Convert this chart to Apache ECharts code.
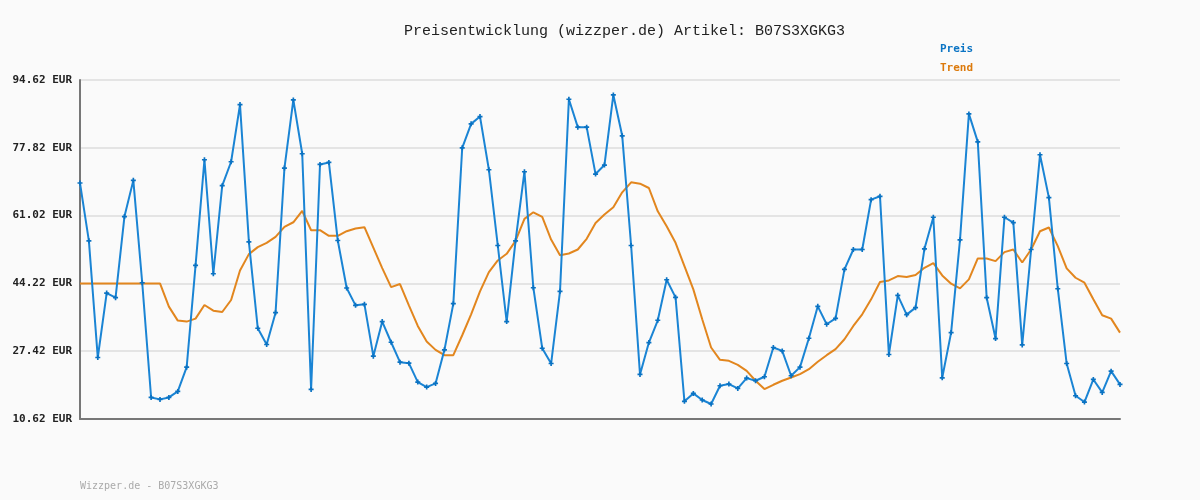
<!DOCTYPE html>
<html>
<head>
<meta charset="utf-8">
<script src="https://cdn.jsdelivr.net/npm/echarts@6/dist/echarts.min.js"></script>
<style>
  html, body { margin: 0; padding: 0; background: #fafafa; }
  #chart { width: 1200px; height: 500px; }
</style>
</head>
<body>
<div id="chart"></div>
<script>
const PRICE_COLOR = "#1a84d4";
const TREND_COLOR = "#e2861e";

const PRICE = [
  69.09, 54.76, 25.86, 41.83, 40.68, 60.78, 69.75, 44.39, 15.97, 15.48,
  15.97, 17.46, 23.47, 48.67, 74.86, 46.61, 68.43, 74.36, 88.53, 54.52,
  33.10, 29.07, 36.97, 72.80, 89.68, 76.34, 17.95, 73.70, 74.20, 54.84,
  43.07, 38.78, 39.03, 26.19, 34.75, 29.64, 24.70, 24.46, 19.76, 18.53,
  19.44, 27.75, 39.20, 77.82, 83.75, 85.56, 72.39, 53.61, 34.75, 54.76,
  71.89, 43.15, 28.16, 24.37, 42.25, 89.84, 82.93, 82.93, 71.31, 73.54,
  90.92, 80.79, 53.61, 21.66, 29.56, 35.08, 45.13, 40.76, 14.99, 16.96,
  15.32, 14.33, 18.86, 19.27, 18.20, 20.75, 20.09, 21.08, 28.33, 27.50,
  21.33, 23.47, 30.63, 38.54, 34.09, 35.57, 47.68, 52.62, 52.62, 64.97,
  65.80, 26.60, 41.26, 36.48, 38.21, 52.79, 60.61, 20.83, 32.03, 55.01,
  86.22, 79.30, 40.68, 30.55, 60.61, 59.29, 28.98, 52.62, 76.09, 65.47,
  42.90, 24.37, 16.39, 14.82, 20.42, 17.21, 22.48, 19.19
];

const TREND = [
  44.22, 44.22, 44.22, 44.22, 44.22, 44.22, 44.22, 44.22, 44.22, 44.22,
  38.46, 35.00, 34.75, 35.49, 38.87, 37.47, 37.14, 40.10, 47.43, 51.47,
  53.20, 54.27, 55.75, 58.22, 59.37, 62.17, 57.40, 57.40, 56.00, 56.00,
  57.15, 57.81, 58.14, 53.07, 48.01, 43.31, 44.06, 38.78, 33.68, 29.81,
  27.75, 26.43, 26.43, 31.37, 36.56, 42.25, 47.02, 49.90, 51.55, 54.76,
  60.20, 61.84, 60.69, 55.09, 51.22, 51.63, 52.62, 55.26, 59.21, 61.27,
  63.08, 66.79, 69.26, 68.93, 67.86, 62.09, 58.39, 54.27, 48.51, 42.74,
  35.33, 28.33, 25.28, 25.03, 24.05, 22.56, 20.09, 18.03, 19.10, 20.09,
  20.91, 21.74, 22.97, 24.79, 26.43, 27.92, 30.39, 33.68, 36.56, 40.27,
  44.55, 44.96, 46.03, 45.79, 46.28, 48.09, 49.24, 46.20, 44.14, 42.99,
  45.21, 50.40, 50.40, 49.74, 51.96, 52.62, 49.41, 52.62, 57.15, 58.06,
  53.45, 47.93, 45.62, 44.39, 40.27, 36.32, 35.49, 32.03
];

const Y_MIN = 10.62;
const Y_MAX = 94.62;
const Y_STEP = 16.8;

const categories = PRICE.map((_, i) => String(i + 1));

const chart = echarts.init(document.getElementById("chart"), null, { renderer: "canvas" });

const option = {
  animation: false,
  backgroundColor: "#fafafa",
  title: {
    text: "Preisentwicklung (wizzper.de) Artikel: B07S3XGKG3",
    left: 399,
    top: 19,
    textStyle: {
      fontFamily: "Liberation Mono",
      fontSize: 15,
      fontWeight: "normal",
      color: "#222",
    },
  },
  graphic: [
    {
      type: "text",
      left: 80,
      top: 481,
      style: {
        text: "Wizzper.de - B07S3XGKG3",
        fontFamily: "DejaVu Sans Mono",
        fontSize: 10,
        fill: "#aaaaaa",
      },
    },
  ],
  legend: {
    orient: "vertical",
    left: 935,
    top: 39,
    itemGap: 8,
    itemWidth: 0,
    itemHeight: 0,
    icon: "none",
    selectedMode: false,
    textStyle: {
      fontFamily: "DejaVu Sans Mono",
      fontSize: 11,
      fontWeight: "bold",
      padding: [0, 0, 0, -5],
    },
    data: [
      { name: "Preis", textStyle: { color: "#0b74c4" } },
      { name: "Trend", textStyle: { color: "#dc7a0c" } },
    ],
  },
  grid: {
    left: 80,
    right: 80,
    top: 80,
    bottom: 81,
  },
  xAxis: {
    type: "category",
    data: categories,
    boundaryGap: false,
    axisLine: { show: true, lineStyle: { color: "#777", width: 2 } },
    axisTick: { show: false },
    axisLabel: { show: false },
    splitLine: { show: false },
  },
  yAxis: {
    type: "value",
    min: Y_MIN,
    max: Y_MAX,
    interval: Y_STEP,
    axisLine: { show: true, lineStyle: { color: "#777", width: 2 } },
    axisTick: { show: false },
    axisLabel: {
      color: "#222",
      fontFamily: "DejaVu Sans Mono",
      fontSize: 11,
      fontWeight: "bold",
      margin: 8,
      formatter: (v) => v.toFixed(2) + " EUR",
    },
    splitLine: { show: true, lineStyle: { color: "#e4e4e4", width: 2 } },
  },
  series: [
    {
      name: "Preis",
      type: "line",
      data: PRICE,
      z: 3,
      lineStyle: { color: PRICE_COLOR, width: 2 },
      itemStyle: { color: "#0a72c2" },
      symbol: "path://M2,0h2v2h2v2h-2v2h-2v-2h-2v-2h2z",
      symbolSize: 5,
      showSymbol: true,
    },
    {
      name: "Trend",
      type: "line",
      data: TREND,
      z: 2,
      lineStyle: { color: TREND_COLOR, width: 2 },
      itemStyle: { color: TREND_COLOR },
      symbol: "none",
    },
  ],
};

chart.setOption(option);
</script>
</body>
</html>
